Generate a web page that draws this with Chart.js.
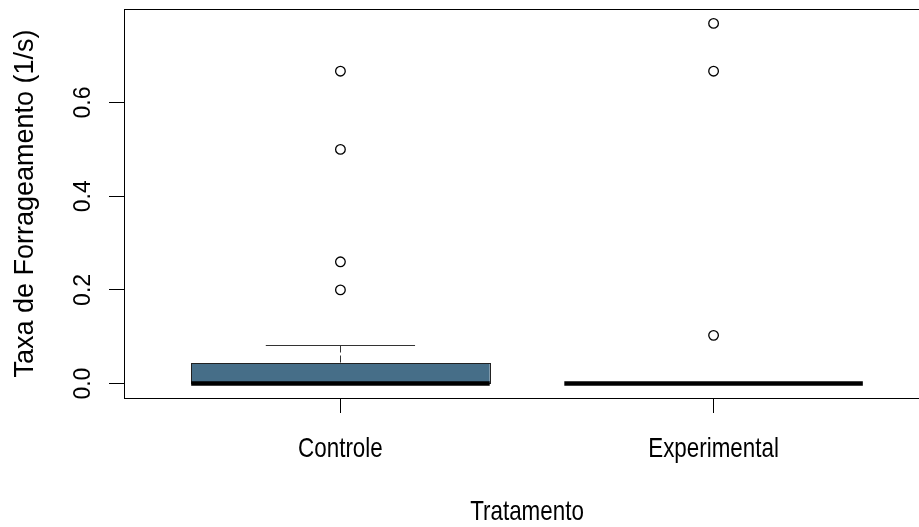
<!DOCTYPE html>
<html>
<head>
<meta charset="utf-8">
<script src="https://cdn.jsdelivr.net/npm/chart.js@4.4.1/dist/chart.umd.min.js"></script>
<style>
  html, body { margin: 0; padding: 0; background: #fff; overflow: hidden; }
  #wrap { width: 941px; height: 527px; }
</style>
</head>
<body>
<div id="wrap"><canvas id="chart" width="941" height="527"></canvas></div>
<script>
// ==== DATA ====
const categories = ['Controle', 'Experimental'];
const q1         = [0, 0];
const medians    = [0, 0];
const q3         = [0.043, 0];
const whiskLow   = [0, 0];
const whiskHigh  = [0.083, 0];
const outliers   = [
  [0.667, 0.5, 0.26, 0.2],   // Controle
  [0.769, 0.667, 0.103]      // Experimental
];
const yTicks      = [0, 0.2, 0.4, 0.6];
const yTickLabels = ['0.0', '0.2', '0.4', '0.6'];
const xTitle = 'Tratamento';
const yTitle = 'Taxa de Forrageamento (1/s)';

const BOX_FILL = '#466e88';
const FONT = "'Liberation Sans', Arial, sans-serif";

// R style range: data range padded by 4%
const allVals = [].concat(...outliers, q1, q3, whiskHigh, whiskLow);
const dMin = Math.min(...allVals), dMax = Math.max(...allVals);
const yMin = dMin - 0.04 * (dMax - dMin);
const yMax = dMax + 0.04 * (dMax - dMin);

// outlier points
const points = [];
outliers.forEach((arr, i) => arr.forEach(v => points.push({ x: i + 1, y: v })));

// boxes, whiskers, frame and labels
const boxPlot = {
  id: 'boxPlot',
  beforeDatasetsDraw(chart) {
    const { ctx, scales: { x, y } } = chart;
    ctx.save();
    categories.forEach((c, i) => {
      const xc = x.getPixelForValue(i + 1);
      const half = x.getPixelForValue(i + 1.4) - xc;
      const cap = x.getPixelForValue(i + 1.2) - xc;
      const yq1 = y.getPixelForValue(q1[i]), yq3 = y.getPixelForValue(q3[i]);
      // whisker
      if (whiskHigh[i] > q3[i]) {
        const yw = Math.round(y.getPixelForValue(whiskHigh[i])) + 0.5;
        ctx.strokeStyle = '#333'; ctx.lineWidth = 1;
        ctx.setLineDash([7, 3]);
        ctx.beginPath(); ctx.moveTo(Math.round(xc) + 0.5, yw); ctx.lineTo(Math.round(xc) + 0.5, yq3); ctx.stroke();
        ctx.setLineDash([]);
        ctx.beginPath(); ctx.moveTo(xc - cap, yw); ctx.lineTo(xc + cap, yw); ctx.stroke();
      }
      // box
      if (q3[i] > q1[i]) {
        ctx.fillStyle = BOX_FILL;
        ctx.fillRect(xc - half, yq3, 2 * half, yq1 - yq3);
        ctx.strokeStyle = '#222'; ctx.lineWidth = 1;
        ctx.strokeRect(Math.round(xc - half) + 0.5, Math.round(yq3) + 0.5, Math.round(2 * half), Math.round(yq1 - yq3));
      }
      // median
      const ym = y.getPixelForValue(medians[i]);
      ctx.strokeStyle = '#000'; ctx.lineWidth = 4.5; ctx.lineCap = 'butt';
      ctx.beginPath(); ctx.moveTo(xc - half, ym); ctx.lineTo(xc + half, ym); ctx.stroke();
    });
    ctx.restore();
  },
  afterDraw(chart) {
    const { ctx, chartArea: a, scales: { x, y } } = chart;
    ctx.save();
    // plot frame
    ctx.strokeStyle = '#000'; ctx.lineWidth = 1;
    ctx.strokeRect(Math.round(a.left) + 0.5, Math.round(a.top) + 0.5,
      Math.round(a.right - a.left), Math.round(a.bottom - a.top));
    ctx.fillStyle = '#000';
    // y tick labels (rotated)
    ctx.font = '23px ' + FONT;
    ctx.textAlign = 'center'; ctx.textBaseline = 'alphabetic';
    yTicks.forEach((v, i) => {
      ctx.save();
      ctx.translate(90, y.getPixelForValue(v));
      ctx.rotate(-Math.PI / 2);
      ctx.fillText(yTickLabels[i], 0, 0);
      ctx.restore();
    });
    // y title
    ctx.save();
    ctx.font = '27px ' + FONT;
    ctx.translate(33, (a.top + a.bottom) / 2);
    ctx.rotate(-Math.PI / 2);
    ctx.fillText(yTitle, 0, 0);
    ctx.restore();
    // x labels (narrow)
    ctx.font = '28px ' + FONT;
    categories.forEach((c, i) => {
      ctx.save();
      ctx.translate(x.getPixelForValue(i + 1), 457);
      ctx.scale(0.8, 1);
      ctx.fillText(c, 0, 0);
      ctx.restore();
    });
    ctx.save();
    ctx.translate(x.getPixelForValue(1.5), 520);
    ctx.scale(0.8, 1);
    ctx.fillText(xTitle, 0, 0);
    ctx.restore();
    ctx.restore();
  }
};

new Chart(document.getElementById('chart'), {
  type: 'scatter',
  data: {
    datasets: [{
      data: points,
      pointStyle: 'circle',
      pointRadius: 4.8,
      pointHoverRadius: 4.8,
      pointBorderWidth: 1.3,
      backgroundColor: '#fff',
      borderColor: '#000'
    }]
  },
  options: {
    responsive: false,
    animation: false,
    devicePixelRatio: 1,
    layout: { padding: { left: 109, top: 9, right: 11, bottom: 114 } },
    plugins: { legend: { display: false }, tooltip: { enabled: false } },
    scales: {
      x: {
        type: 'linear', min: 0.42, max: 2.58,
        afterBuildTicks: s => { s.ticks = categories.map((c, i) => ({ value: i + 1 })); },
        afterFit: s => { s.height = 15; },
        ticks: { display: false },
        border: { display: false },
        grid: { drawOnChartArea: false, drawTicks: true, tickLength: 15, color: '#000', lineWidth: 1 }
      },
      y: {
        type: 'linear', min: yMin, max: yMax,
        afterBuildTicks: s => { s.ticks = yTicks.map(v => ({ value: v })); },
        afterFit: s => { s.width = 15; },
        ticks: { display: false },
        border: { display: false },
        grid: { drawOnChartArea: false, drawTicks: true, tickLength: 15, color: '#000', lineWidth: 1 }
      }
    }
  },
  plugins: [boxPlot]
});
</script>
</body>
</html>
